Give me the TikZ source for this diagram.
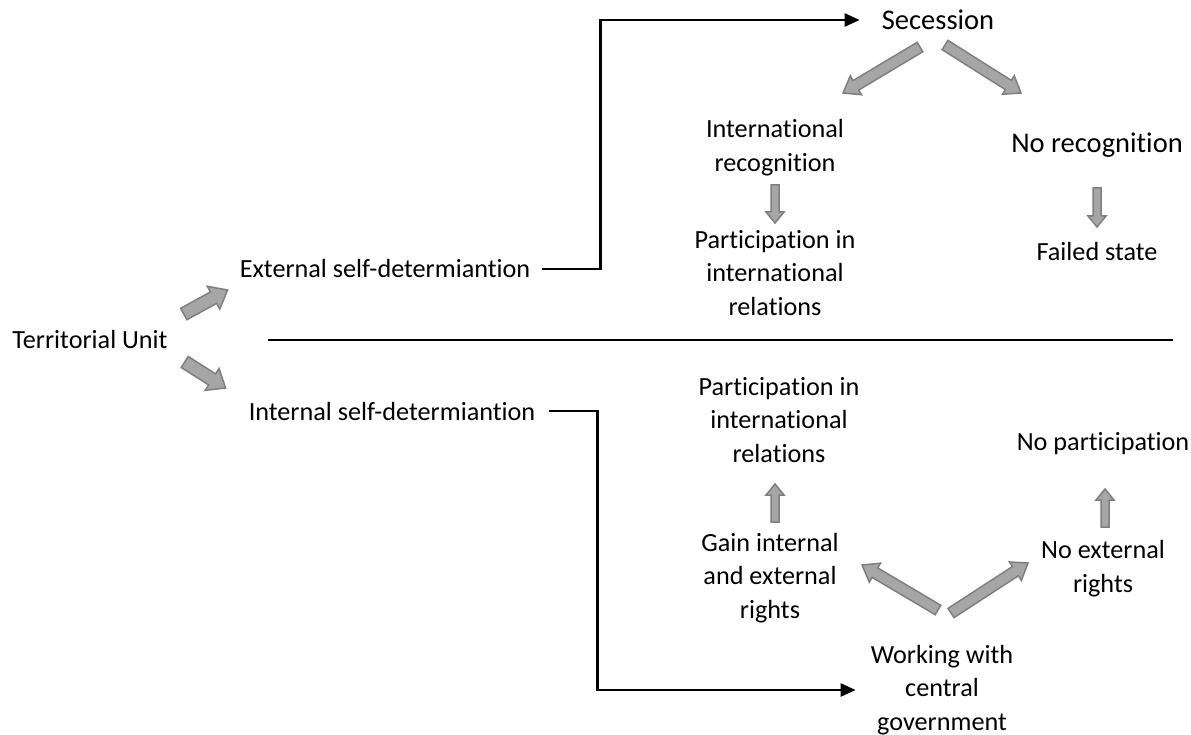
\documentclass[tikz,border=0pt]{standalone}
\usepackage{fontspec}
\setmainfont{Carlito}[RawFeature=-liga, RawFeature=-clig, RawFeature=-calt, RawFeature=-dlig]
\usetikzlibrary{arrows.meta, positioning, calc}

\definecolor{arrowfill}{HTML}{A6A6A6}
\definecolor{arrowedge}{HTML}{7F7F7F}

\tikzset{
  lbl/.style={font=\fontsize{26.2}{33.8}\selectfont, align=center, inner sep=0pt},
  biglbl/.style={lbl, font=\fontsize{28.5}{36}\selectfont},
  flow/.style={line width=2.5pt, -{Triangle[length=15pt, width=13pt]}},
  fatarrow/.style n args={3}{draw=arrowedge, fill=arrowfill, line width=1.5pt,
    to path={let \p1=(\tikztostart), \p2=(\tikztotarget), \p3=($(\p2)!#3!(\p1)$) in
      ($(\p1)!#1!90:(\p2)$) -- ($(\p3)!#1!-90:(\p1)$) -- ($(\p3)!#2!-90:(\p1)$) -- (\p2)
      -- ($(\p3)!#2!90:(\p1)$) -- ($(\p3)!#1!90:(\p1)$) -- ($(\p1)!#1!-90:(\p2)$) -- cycle}},
  bigblock/.style={fatarrow={6.5pt}{13pt}{16pt}},
  midblock/.style={fatarrow={5.5pt}{11pt}{15pt}},
  smallblock/.style={fatarrow={4pt}{9pt}{11pt}},
}

\begin{document}
\begin{tikzpicture}[x=1pt, y=1pt]
  \useasboundingbox (0,0) rectangle (1191,-735);

  % Root and the two branches
  \node[lbl] (terr) at (90,-339) {Territorial Unit};
  \node[lbl] (ext) at (385,-269) {External self-determiantion};
  \node[lbl] (int) at (392,-411) {Internal self-determiantion};

  % External branch
  \node[biglbl] (sec) at (938,-20) {Secession};
  \node[lbl] (intrec) at (775,-148) {International\\recognition};
  \node[lbl] (partA) at (775,-273) {Participation in\\international\\relations};
  \node[biglbl] (norec) at (1097,-145) {No recognition};
  \node[lbl] (failed) at (1097,-252) {Failed state};

  % Internal branch
  \node[lbl] (partB) at (779,-420) {Participation in\\international\\relations};
  \node[lbl] (nopart) at (1103,-444) {No participation};
  \node[lbl] (gain) at (770,-578) {Gain internal\\and external\\rights};
  \node[lbl] (noext) at (1103,-569) {No external\\rights};
  \node[lbl] (work) at (942,-690) {Working with\\central\\government};

  % Divider
  \draw[line width=1.3pt] (268,-340) -- (1173,-340);

  % Elbow connectors
  \draw[flow] ([xshift=12pt]ext.east) -- ++(58,0) |- ([xshift=-22pt]sec.west);
  \draw[flow] ([xshift=14pt]int.east) -- ++(48,0) |- ([xshift=-15pt]work.west);

  % Block arrows
  \draw[bigblock] ([shift={(16,25)}]terr.east) to ([shift={(-12,-21)}]ext.west);
  \draw[bigblock] ([shift={(17,-23)}]terr.east) to ([shift={(-23,23)}]int.west);
  \draw[midblock] ([shift={(-18,-27)}]sec.center) to ([shift={(68,55)}]intrec.center);
  \draw[midblock] ([shift={(7,-25)}]sec.center) to ([shift={(-76,52)}]norec.center);
  \draw[midblock] ([shift={(-4,80)}]work.center) to ([shift={(92,13)}]gain.center);
  \draw[midblock] ([shift={(9,77)}]work.center) to ([shift={(-75,6)}]noext.center);
  \draw[smallblock] ([yshift=-37pt]intrec.center) to ([yshift=50pt]partA.center);
  \draw[smallblock] ([yshift=-43pt]norec.center) to ([yshift=25pt]failed.center);
  \draw[smallblock] ([shift={(5,56)}]gain.center) to ([shift={(-4,-64)}]partB.center);
  \draw[smallblock] ([shift={(2,42)}]noext.center) to ([shift={(2,-45)}]nopart.center);
\end{tikzpicture}
\end{document}
